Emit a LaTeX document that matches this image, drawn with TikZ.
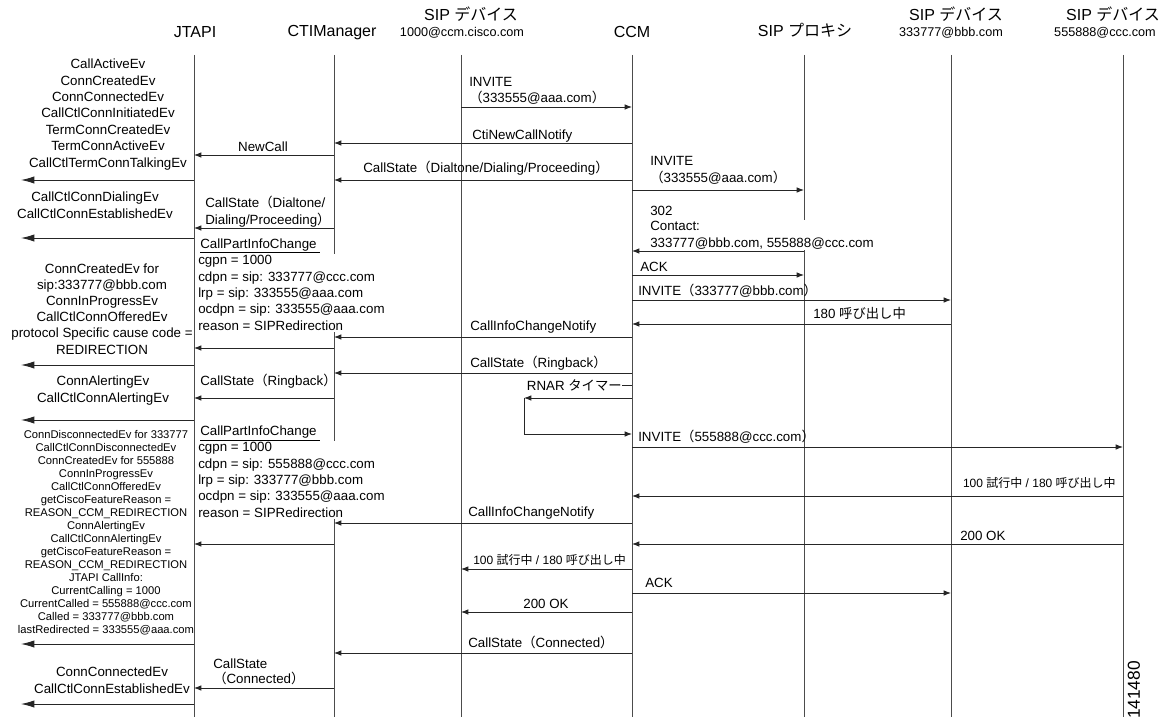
\documentclass[tikz,border=0pt]{standalone}
\usepackage{fontspec}
\setmainfont{Liberation Sans}
\newfontfamily\jpf{Noto Sans CJK JP}
\newcommand\jp[1]{{\jpf #1}}
\usetikzlibrary{arrows.meta}
\begin{document}
\begin{tikzpicture}[x=0.75pt,y=-0.75pt,
  life/.style={draw=black!70,line width=0.7pt},
  msg/.style={draw=black!85,line width=0.7pt,-{Latex[length=5.5pt,width=4.2pt]}},
  plain/.style={draw=black!85,line width=0.7pt},
  jtout/.style={draw=black!85,line width=0.7pt,-{Latex[length=10pt,width=5.5pt]}},
  hdr/.style={font=\fontsize{12}{14}\selectfont,inner sep=0pt,anchor=base},
  subhdr/.style={font=\fontsize{9.5}{11}\selectfont,inner sep=0pt,anchor=base},
  lbl/.style={font=\fontsize{10}{12}\selectfont,inner sep=0pt,anchor=base west,align=left},
  lbls/.style={font=\fontsize{9}{11}\selectfont,inner sep=0pt,anchor=base west,align=left},
  jtl/.style={font=\fontsize{10}{12.3}\selectfont,inner sep=0pt,anchor=base,align=center},
  jts/.style={font=\fontsize{8.4}{9.75}\selectfont,inner sep=0pt,anchor=base,align=center},
  info/.style={font=\fontsize{10}{12.2}\selectfont,inner xsep=0pt,inner ysep=1.5pt,anchor=base west,align=left,fill=white}
]
\useasboundingbox (0,0) rectangle (1173,717);

% lifeline x positions
\coordinate (jt) at (194,0);
\coordinate (cti) at (334,0);
\coordinate (sd1) at (461,0);
\coordinate (ccm) at (632,0);
\coordinate (prx) at (804,0);
\coordinate (sd2) at (951,0);
\coordinate (sd3) at (1123,0);
\coordinate (lft) at (21,0);
\coordinate (loop) at (524,0);

% headers
\node[hdr] (hJT) at (195,38) {JTAPI};
\node[hdr] (hCTI) at (332,37) {CTIManager};
\node[hdr] (hSD1) at (471,21) {SIP \jp{デバイス}};
\node[subhdr] (hSD1s) at (462,37) {1000@ccm.cisco.com};
\node[hdr] (hCCM) at (632,38) {CCM};
\node[hdr] (hPRX) at (805,37) {SIP \jp{プロキシ}};
\node[hdr] (hSD2) at (956,21) {SIP \jp{デバイス}};
\node[subhdr] (hSD2s) at (951,37) {333777@bbb.com};
\node[hdr] (hSD3) at (1113,21) {SIP \jp{デバイス}};
\node[subhdr] (hSD3s) at (1105,37) {555888@ccc.com};

% lifelines
\foreach \c in {jt,cti,sd1,ccm,prx,sd2,sd3}
  \draw[life] (\c |- 0,55) -- (\c |- 0,717);

% JTAPI event lists (base anchor = baseline of last line)
\node[jtl] (e1) at (108,167) {CallActiveEv\\ConnCreatedEv\\ConnConnectedEv\\CallCtlConnInitiatedEv\\TermConnCreatedEv\\TermConnActiveEv\\CallCtlTermConnTalkingEv};
\node[jtl] (e2) at (95,218) {CallCtlConnDialingEv\\CallCtlConnEstablishedEv};
\node[jtl,font=\fontsize{10}{12.15}\selectfont] (e3) at (102,354) {ConnCreatedEv for\\sip:333777@bbb.com\\ConnInProgressEv\\CallCtlConnOfferedEv\\protocol Specific cause code =\\REDIRECTION};
\node[jtl] (e4) at (103,402) {ConnAlertingEv\\CallCtlConnAlertingEv};
\node[jts] (e5) at (106,633.5) {ConnDisconnectedEv for 333777\\CallCtlConnDisconnectedEv\\ConnCreatedEv for 555888\\ConnInProgressEv\\CallCtlConnOfferedEv\\getCiscoFeatureReason =\\REASON\_CCM\_REDIRECTION\\ConnAlertingEv\\CallCtlConnAlertingEv\\getCiscoFeatureReason =\\REASON\_CCM\_REDIRECTION\\JTAPI CallInfo:\\CurrentCalling = 1000\\CurrentCalled = 555888@ccc.com\\Called = 333777@bbb.com\\lastRedirected = 333555@aaa.com};
\node[jtl,font=\fontsize{10}{12.75}\selectfont] (e6) at (112,693) {ConnConnectedEv\\CallCtlConnEstablishedEv};

% CallPartInfoChange blocks
\node[lbl] (p1t) at (200,248) {\underline{CallPartInfoChange\ }};
\node[info] (p1) at (198,330) {cgpn = 1000\\cdpn = sip: 333777@ccc.com\\lrp = sip: 333555@aaa.com\\ocdpn = sip: 333555@aaa.com\\reason = SIPRedirection};
\node[lbl] (p2t) at (200,435.5) {\underline{CallPartInfoChange\ }};
\node[info] (p2) at (198,517) {cgpn = 1000\\cdpn = sip: 555888@ccc.com\\lrp = sip: 333777@bbb.com\\ocdpn = sip: 333555@aaa.com\\reason = SIPRedirection};

% message labels
\node[lbl] (m1) at (469,102) {INVITE\\\jp{（}333555@aaa.com\jp{）}};
\node[lbl] (m2) at (472,139) {CtiNewCallNotify};
\node[lbl,anchor=base] (m3) at (263,151) {NewCall};
\node[lbl] (m4) at (363,172) {CallState\jp{（}Dialtone/Dialing/Proceeding\jp{）}};
\node[lbl,font=\fontsize{10}{12.75}\selectfont] (m5) at (650,182) {INVITE\\\jp{（}333555@aaa.com\jp{）}};
\node[lbl,font=\fontsize{10}{12.75}\selectfont] (m6) at (205,224) {CallState\jp{（}Dialtone/\\Dialing/Proceeding\jp{）}};
\node[lbl] (m7a) at (650,215) {302};
\node[info,inner ysep=1pt] (m7) at (650,247) {Contact:\\333777@bbb.com, 555888@ccc.com};
\node[lbl] (m8) at (640,271) {ACK};
\node[lbl] (m9) at (638,295) {INVITE\jp{（}333777@bbb.com\jp{）}};
\node[lbl] (m10) at (813,318) {180 \jp{呼び出し中}};
\node[lbl] (m11) at (470,330) {CallInfoChangeNotify};
\node[lbl] (m13) at (470,367) {CallState\jp{（}Ringback\jp{）}};
\node[lbl] (m14) at (200,385) {CallState\jp{（}Ringback\jp{）}};
\node[lbl,anchor=base east] (rnar) at (622,390) {RNAR \jp{タイマー}};
\node[lbl] (m16) at (638,441) {INVITE\jp{（}555888@ccc.com\jp{）}};
\node[lbls,anchor=base east] (m17) at (1116,487) {100 \jp{試行中} / 180 \jp{呼び出し中}};
\node[lbl] (m18) at (468,516) {CallInfoChangeNotify};
\node[lbl] (m19) at (960,540) {200 OK};
\node[lbls] (m20) at (473,564) {100 \jp{試行中} / 180 \jp{呼び出し中}};
\node[lbl] (m21) at (645,587) {ACK};
\node[lbl,anchor=base] (m22) at (546,608) {200 OK};
\node[lbl] (m23) at (468,647) {CallState\jp{（}Connected\jp{）}};
\node[lbl,font=\fontsize{10}{11.25}\selectfont] (m24) at (213,683) {CallState\\\jp{（}Connected\jp{）}};
\node[rotate=90,font=\fontsize{13}{13}\selectfont,inner sep=0pt] (fig) at (1134,690) {141480};

% arrows
\draw[msg] (sd1 |- 0,107) -- (ccm |- 0,107);
\draw[msg] (ccm |- 0,143) -- (cti |- 0,143);
\draw[msg] (cti |- 0,155) -- (jt |- 0,155);
\draw[msg] (ccm |- 0,180) -- (cti |- 0,180);
\draw[jtout] (jt |- 0,180) -- (lft |- 0,180);
\draw[msg] (ccm |- 0,190) -- (prx |- 0,190);
\draw[msg] (cti |- 0,228) -- (jt |- 0,228);
\draw[jtout] (jt |- 0,238) -- (lft |- 0,238);
\draw[msg] (prx |- 0,251) -- (ccm |- 0,251);
\draw[msg] (ccm |- 0,275) -- (prx |- 0,275);
\draw[msg] (ccm |- 0,300) -- (sd2 |- 0,300);
\draw[msg] (sd2 |- 0,324) -- (ccm |- 0,324);
\draw[msg] (ccm |- 0,337) -- (cti |- 0,337);
\draw[msg] (cti |- 0,348) -- (jt |- 0,348);
\draw[jtout] (jt |- 0,365) -- (lft |- 0,365);
\draw[msg] (ccm |- 0,373) -- (cti |- 0,373);
\draw[msg] (cti |- 0,398) -- (jt |- 0,398);
\draw[jtout] (jt |- 0,420) -- (lft |- 0,420);
\draw[plain] (rnar.east |- 0,385) -- (ccm |- 0,385);
\draw[msg] (ccm |- 0,398) -- (loop |- 0,398);
\draw[msg] (loop |- 0,398) -- (loop |- 0,434) -- (ccm |- 0,434);
\draw[msg] (ccm |- 0,447) -- (sd3 |- 0,447);
\draw[msg] (sd3 |- 0,496) -- (ccm |- 0,496);
\draw[msg] (ccm |- 0,523) -- (cti |- 0,523);
\draw[msg] (cti |- 0,544) -- (jt |- 0,544);
\draw[msg] (sd3 |- 0,544) -- (ccm |- 0,544);
\draw[msg] (ccm |- 0,569) -- (sd1 |- 0,569);
\draw[msg] (ccm |- 0,593) -- (sd2 |- 0,593);
\draw[msg] (ccm |- 0,612) -- (sd1 |- 0,612);
\draw[jtout] (jt |- 0,644) -- (lft |- 0,644);
\draw[msg] (ccm |- 0,653) -- (cti |- 0,653);
\draw[msg] (cti |- 0,688) -- (jt |- 0,688);
\draw[jtout] (jt |- 0,704) -- (lft |- 0,704);
\end{tikzpicture}
\end{document}
